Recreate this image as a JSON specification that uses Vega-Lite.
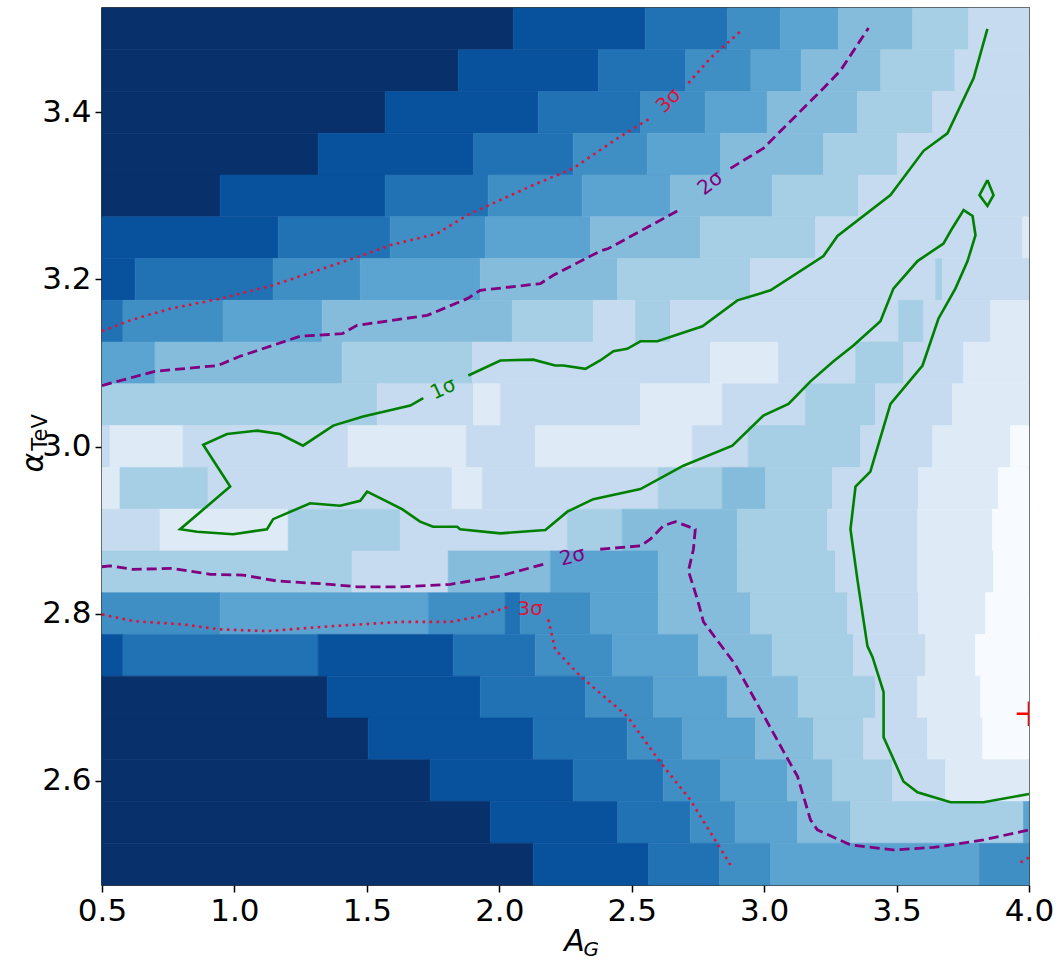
{
  "$schema": "https://vega.github.io/schema/vega-lite/v6.json",
  "autosize": {"type": "none"},
  "padding": {"left": 102, "top": 8, "right": 29, "bottom": 79},
  "width": 927,
  "height": 877,
  "background": "white",
  "config": {
    "view": {"stroke": "black", "strokeWidth": 1.5},
    "font": "DejaVu Sans",
    "axis": {"grid": false, "domain": false, "tickColor": "black", "tickWidth": 1.5, "tickSize": 7,
             "labelFont": "DejaVu Sans", "labelFontSize": 31, "labelColor": "black", "labelPadding": 4, "labelFlush": false, "labelOverlap": false,
             "titleFont": "DejaVu Sans", "titleFontSize": 30, "titleColor": "black", "titleFontWeight": "normal", "titleFontStyle": "italic"}
  },
  "datasets": {
    "heat": [
      {"y0":3.475,"y1":3.525,"x0":0.5,"x1":2.053,"v":9},{"y0":3.475,"y1":3.525,"x0":2.053,"x1":2.551,"v":8},{"y0":3.475,"y1":3.525,"x0":2.551,"x1":2.861,"v":7},{"y0":3.475,"y1":3.525,"x0":2.861,"x1":3.061,"v":6},{"y0":3.475,"y1":3.525,"x0":3.061,"x1":3.28,"v":5},{"y0":3.475,"y1":3.525,"x0":3.28,"x1":3.56,"v":4},{"y0":3.475,"y1":3.525,"x0":3.56,"x1":3.772,"v":3},{"y0":3.475,"y1":3.525,"x0":3.772,"x1":4.0,"v":2},
      {"y0":3.425,"y1":3.475,"x0":0.5,"x1":1.845,"v":9},{"y0":3.425,"y1":3.475,"x0":1.845,"x1":2.374,"v":8},{"y0":3.425,"y1":3.475,"x0":2.374,"x1":2.703,"v":7},{"y0":3.425,"y1":3.475,"x0":2.703,"x1":2.95,"v":6},{"y0":3.425,"y1":3.475,"x0":2.95,"x1":3.14,"v":5},{"y0":3.425,"y1":3.475,"x0":3.14,"x1":3.44,"v":4},{"y0":3.425,"y1":3.475,"x0":3.44,"x1":3.72,"v":3},{"y0":3.425,"y1":3.475,"x0":3.72,"x1":4.0,"v":2},
      {"y0":3.375,"y1":3.425,"x0":0.5,"x1":1.569,"v":9},{"y0":3.375,"y1":3.425,"x0":1.569,"x1":2.147,"v":8},{"y0":3.375,"y1":3.425,"x0":2.147,"x1":2.533,"v":7},{"y0":3.375,"y1":3.425,"x0":2.533,"x1":2.778,"v":6},{"y0":3.375,"y1":3.425,"x0":2.778,"x1":3.012,"v":5},{"y0":3.375,"y1":3.425,"x0":3.012,"x1":3.352,"v":4},{"y0":3.375,"y1":3.425,"x0":3.352,"x1":3.636,"v":3},{"y0":3.375,"y1":3.425,"x0":3.636,"x1":4.0,"v":2},
      {"y0":3.325,"y1":3.375,"x0":0.5,"x1":1.316,"v":9},{"y0":3.325,"y1":3.375,"x0":1.316,"x1":1.902,"v":8},{"y0":3.325,"y1":3.375,"x0":1.902,"x1":2.279,"v":7},{"y0":3.325,"y1":3.375,"x0":2.279,"x1":2.559,"v":6},{"y0":3.325,"y1":3.375,"x0":2.559,"x1":2.835,"v":5},{"y0":3.325,"y1":3.375,"x0":2.835,"x1":3.224,"v":4},{"y0":3.325,"y1":3.375,"x0":3.224,"x1":3.503,"v":3},{"y0":3.325,"y1":3.375,"x0":3.503,"x1":4.0,"v":2},
      {"y0":3.275,"y1":3.325,"x0":0.5,"x1":0.946,"v":9},{"y0":3.275,"y1":3.325,"x0":0.946,"x1":1.569,"v":8},{"y0":3.275,"y1":3.325,"x0":1.569,"x1":1.958,"v":7},{"y0":3.275,"y1":3.325,"x0":1.958,"x1":2.313,"v":6},{"y0":3.275,"y1":3.325,"x0":2.313,"x1":2.646,"v":5},{"y0":3.275,"y1":3.325,"x0":2.646,"x1":3.031,"v":4},{"y0":3.275,"y1":3.325,"x0":3.031,"x1":3.356,"v":3},{"y0":3.275,"y1":3.325,"x0":3.356,"x1":4.0,"v":2},
      {"y0":3.225,"y1":3.275,"x0":0.5,"x1":1.165,"v":8},{"y0":3.225,"y1":3.275,"x0":1.165,"x1":1.588,"v":7},{"y0":3.225,"y1":3.275,"x0":1.588,"x1":1.947,"v":6},{"y0":3.225,"y1":3.275,"x0":1.947,"x1":2.344,"v":5},{"y0":3.225,"y1":3.275,"x0":2.344,"x1":2.759,"v":4},{"y0":3.225,"y1":3.275,"x0":2.759,"x1":3.194,"v":3},{"y0":3.225,"y1":3.275,"x0":3.194,"x1":3.976,"v":2},{"y0":3.225,"y1":3.275,"x0":3.976,"x1":4.0,"v":1},
      {"y0":3.175,"y1":3.225,"x0":0.5,"x1":0.625,"v":8},{"y0":3.175,"y1":3.225,"x0":0.625,"x1":1.146,"v":7},{"y0":3.175,"y1":3.225,"x0":1.146,"x1":1.475,"v":6},{"y0":3.175,"y1":3.225,"x0":1.475,"x1":1.928,"v":5},{"y0":3.175,"y1":3.225,"x0":1.928,"x1":2.446,"v":4},{"y0":3.175,"y1":3.225,"x0":2.446,"x1":2.948,"v":3},{"y0":3.175,"y1":3.225,"x0":2.948,"x1":3.647,"v":2},{"y0":3.175,"y1":3.225,"x0":3.647,"x1":3.673,"v":3},{"y0":3.175,"y1":3.225,"x0":3.673,"x1":4.0,"v":2},
      {"y0":3.125,"y1":3.175,"x0":0.5,"x1":0.579,"v":7},{"y0":3.125,"y1":3.175,"x0":0.579,"x1":0.957,"v":6},{"y0":3.125,"y1":3.175,"x0":0.957,"x1":1.331,"v":5},{"y0":3.125,"y1":3.175,"x0":1.331,"x1":2.049,"v":4},{"y0":3.125,"y1":3.175,"x0":2.049,"x1":2.355,"v":3},{"y0":3.125,"y1":3.175,"x0":2.355,"x1":2.514,"v":2},{"y0":3.125,"y1":3.175,"x0":2.514,"x1":2.646,"v":3},{"y0":3.125,"y1":3.175,"x0":2.646,"x1":3.507,"v":2},{"y0":3.125,"y1":3.175,"x0":3.507,"x1":3.602,"v":3},{"y0":3.125,"y1":3.175,"x0":3.602,"x1":3.855,"v":2},{"y0":3.125,"y1":3.175,"x0":3.855,"x1":4.0,"v":1},
      {"y0":3.075,"y1":3.125,"x0":0.5,"x1":0.7,"v":5},{"y0":3.075,"y1":3.125,"x0":0.7,"x1":1.407,"v":4},{"y0":3.075,"y1":3.125,"x0":1.407,"x1":1.898,"v":3},{"y0":3.075,"y1":3.125,"x0":1.898,"x1":2.797,"v":2},{"y0":3.075,"y1":3.125,"x0":2.797,"x1":3.054,"v":1},{"y0":3.075,"y1":3.125,"x0":3.054,"x1":3.345,"v":2},{"y0":3.075,"y1":3.125,"x0":3.345,"x1":3.526,"v":3},{"y0":3.075,"y1":3.125,"x0":3.526,"x1":3.753,"v":2},{"y0":3.075,"y1":3.125,"x0":3.753,"x1":4.0,"v":1},
      {"y0":3.025,"y1":3.075,"x0":0.5,"x1":1.539,"v":3},{"y0":3.025,"y1":3.075,"x0":1.539,"x1":1.902,"v":2},{"y0":3.025,"y1":3.075,"x0":1.902,"x1":2.004,"v":1},{"y0":3.025,"y1":3.075,"x0":2.004,"x1":2.533,"v":2},{"y0":3.025,"y1":3.075,"x0":2.533,"x1":2.842,"v":1},{"y0":3.025,"y1":3.075,"x0":2.842,"x1":3.156,"v":2},{"y0":3.025,"y1":3.075,"x0":3.156,"x1":3.42,"v":3},{"y0":3.025,"y1":3.075,"x0":3.42,"x1":3.711,"v":2},{"y0":3.025,"y1":3.075,"x0":3.711,"x1":4.0,"v":1},
      {"y0":2.975,"y1":3.025,"x0":0.5,"x1":0.53,"v":2},{"y0":2.975,"y1":3.025,"x0":0.53,"x1":0.806,"v":1},{"y0":2.975,"y1":3.025,"x0":0.806,"x1":1.429,"v":2},{"y0":2.975,"y1":3.025,"x0":1.429,"x1":1.875,"v":1},{"y0":2.975,"y1":3.025,"x0":1.875,"x1":2.136,"v":2},{"y0":2.975,"y1":3.025,"x0":2.136,"x1":2.729,"v":1},{"y0":2.975,"y1":3.025,"x0":2.729,"x1":2.94,"v":2},{"y0":2.975,"y1":3.025,"x0":2.94,"x1":3.364,"v":3},{"y0":2.975,"y1":3.025,"x0":3.364,"x1":3.636,"v":2},{"y0":2.975,"y1":3.025,"x0":3.636,"x1":3.93,"v":1},{"y0":2.975,"y1":3.025,"x0":3.93,"x1":4.0,"v":0},
      {"y0":2.925,"y1":2.975,"x0":0.5,"x1":0.568,"v":1},{"y0":2.925,"y1":2.975,"x0":0.568,"x1":0.9,"v":3},{"y0":2.925,"y1":2.975,"x0":0.9,"x1":1.822,"v":2},{"y0":2.925,"y1":2.975,"x0":1.822,"x1":1.936,"v":1},{"y0":2.925,"y1":2.975,"x0":1.936,"x1":2.6,"v":2},{"y0":2.925,"y1":2.975,"x0":2.6,"x1":2.842,"v":3},{"y0":2.925,"y1":2.975,"x0":2.842,"x1":3.005,"v":4},{"y0":2.925,"y1":2.975,"x0":3.005,"x1":3.258,"v":3},{"y0":2.925,"y1":2.975,"x0":3.258,"x1":3.583,"v":2},{"y0":2.925,"y1":2.975,"x0":3.583,"x1":3.885,"v":1},{"y0":2.925,"y1":2.975,"x0":3.885,"x1":4.0,"v":0},
      {"y0":2.875,"y1":2.925,"x0":0.5,"x1":0.719,"v":2},{"y0":2.875,"y1":2.925,"x0":0.719,"x1":1.203,"v":1},{"y0":2.875,"y1":2.925,"x0":1.203,"x1":1.626,"v":3},{"y0":2.875,"y1":2.925,"x0":1.626,"x1":2.257,"v":2},{"y0":2.875,"y1":2.925,"x0":2.257,"x1":2.464,"v":3},{"y0":2.875,"y1":2.925,"x0":2.464,"x1":2.899,"v":4},{"y0":2.875,"y1":2.925,"x0":2.899,"x1":3.239,"v":3},{"y0":2.875,"y1":2.925,"x0":3.239,"x1":3.579,"v":2},{"y0":2.875,"y1":2.925,"x0":3.579,"x1":3.862,"v":1},{"y0":2.875,"y1":2.925,"x0":3.862,"x1":4.0,"v":0},
      {"y0":2.825,"y1":2.875,"x0":0.5,"x1":1.444,"v":3},{"y0":2.825,"y1":2.875,"x0":1.444,"x1":1.807,"v":2},{"y0":2.825,"y1":2.875,"x0":1.807,"x1":2.193,"v":4},{"y0":2.825,"y1":2.875,"x0":2.193,"x1":2.6,"v":5},{"y0":2.825,"y1":2.875,"x0":2.6,"x1":2.899,"v":4},{"y0":2.825,"y1":2.875,"x0":2.899,"x1":3.269,"v":3},{"y0":2.825,"y1":2.875,"x0":3.269,"x1":3.579,"v":2},{"y0":2.825,"y1":2.875,"x0":3.579,"x1":3.866,"v":1},{"y0":2.825,"y1":2.875,"x0":3.866,"x1":4.0,"v":0},
      {"y0":2.775,"y1":2.825,"x0":0.5,"x1":0.946,"v":6},{"y0":2.775,"y1":2.825,"x0":0.946,"x1":1.732,"v":5},{"y0":2.775,"y1":2.825,"x0":1.732,"x1":2.022,"v":6},{"y0":2.775,"y1":2.825,"x0":2.022,"x1":2.079,"v":7},{"y0":2.775,"y1":2.825,"x0":2.079,"x1":2.344,"v":6},{"y0":2.775,"y1":2.825,"x0":2.344,"x1":2.6,"v":5},{"y0":2.775,"y1":2.825,"x0":2.6,"x1":2.948,"v":4},{"y0":2.775,"y1":2.825,"x0":2.948,"x1":3.315,"v":3},{"y0":2.775,"y1":2.825,"x0":3.315,"x1":3.583,"v":2},{"y0":2.775,"y1":2.825,"x0":3.583,"x1":3.836,"v":1},{"y0":2.775,"y1":2.825,"x0":3.836,"x1":4.0,"v":0},
      {"y0":2.725,"y1":2.775,"x0":0.5,"x1":0.579,"v":8},{"y0":2.725,"y1":2.775,"x0":0.579,"x1":1.316,"v":7},{"y0":2.725,"y1":2.775,"x0":1.316,"x1":1.826,"v":8},{"y0":2.725,"y1":2.775,"x0":1.826,"x1":2.136,"v":7},{"y0":2.725,"y1":2.775,"x0":2.136,"x1":2.427,"v":6},{"y0":2.725,"y1":2.775,"x0":2.427,"x1":2.752,"v":5},{"y0":2.725,"y1":2.775,"x0":2.752,"x1":3.031,"v":4},{"y0":2.725,"y1":2.775,"x0":3.031,"x1":3.337,"v":3},{"y0":2.725,"y1":2.775,"x0":3.337,"x1":3.609,"v":2},{"y0":2.725,"y1":2.775,"x0":3.609,"x1":3.798,"v":1},{"y0":2.725,"y1":2.775,"x0":3.798,"x1":4.0,"v":0},
      {"y0":2.675,"y1":2.725,"x0":0.5,"x1":1.35,"v":9},{"y0":2.675,"y1":2.725,"x0":1.35,"x1":1.928,"v":8},{"y0":2.675,"y1":2.725,"x0":1.928,"x1":2.325,"v":7},{"y0":2.675,"y1":2.725,"x0":2.325,"x1":2.582,"v":6},{"y0":2.675,"y1":2.725,"x0":2.582,"x1":2.861,"v":5},{"y0":2.675,"y1":2.725,"x0":2.861,"x1":3.129,"v":4},{"y0":2.675,"y1":2.725,"x0":3.129,"x1":3.42,"v":3},{"y0":2.675,"y1":2.725,"x0":3.42,"x1":3.579,"v":2},{"y0":2.675,"y1":2.725,"x0":3.579,"x1":3.817,"v":1},{"y0":2.675,"y1":2.725,"x0":3.817,"x1":4.0,"v":0},
      {"y0":2.625,"y1":2.675,"x0":0.5,"x1":1.505,"v":9},{"y0":2.625,"y1":2.675,"x0":1.505,"x1":2.128,"v":8},{"y0":2.625,"y1":2.675,"x0":2.128,"x1":2.483,"v":7},{"y0":2.625,"y1":2.675,"x0":2.483,"x1":2.691,"v":6},{"y0":2.625,"y1":2.675,"x0":2.691,"x1":2.967,"v":5},{"y0":2.625,"y1":2.675,"x0":2.967,"x1":3.186,"v":4},{"y0":2.625,"y1":2.675,"x0":3.186,"x1":3.375,"v":3},{"y0":2.625,"y1":2.675,"x0":3.375,"x1":3.617,"v":2},{"y0":2.625,"y1":2.675,"x0":3.617,"x1":3.825,"v":1},{"y0":2.625,"y1":2.675,"x0":3.825,"x1":4.0,"v":0},
      {"y0":2.575,"y1":2.625,"x0":0.5,"x1":1.739,"v":9},{"y0":2.575,"y1":2.625,"x0":1.739,"x1":2.279,"v":8},{"y0":2.575,"y1":2.625,"x0":2.279,"x1":2.619,"v":7},{"y0":2.575,"y1":2.625,"x0":2.619,"x1":2.835,"v":6},{"y0":2.575,"y1":2.625,"x0":2.835,"x1":3.088,"v":5},{"y0":2.575,"y1":2.625,"x0":3.088,"x1":3.258,"v":4},{"y0":2.575,"y1":2.625,"x0":3.258,"x1":3.485,"v":3},{"y0":2.575,"y1":2.625,"x0":3.485,"x1":3.685,"v":2},{"y0":2.575,"y1":2.625,"x0":3.685,"x1":4.0,"v":1},
      {"y0":2.525,"y1":2.575,"x0":0.5,"x1":1.966,"v":9},{"y0":2.525,"y1":2.575,"x0":1.966,"x1":2.446,"v":8},{"y0":2.525,"y1":2.575,"x0":2.446,"x1":2.721,"v":7},{"y0":2.525,"y1":2.575,"x0":2.721,"x1":2.891,"v":6},{"y0":2.525,"y1":2.575,"x0":2.891,"x1":3.126,"v":5},{"y0":2.525,"y1":2.575,"x0":3.126,"x1":3.326,"v":4},{"y0":2.525,"y1":2.575,"x0":3.326,"x1":3.979,"v":3},{"y0":2.525,"y1":2.575,"x0":3.979,"x1":4.0,"v":5},
      {"y0":2.475,"y1":2.525,"x0":0.5,"x1":2.128,"v":9},{"y0":2.475,"y1":2.525,"x0":2.128,"x1":2.563,"v":8},{"y0":2.475,"y1":2.525,"x0":2.563,"x1":2.831,"v":7},{"y0":2.475,"y1":2.525,"x0":2.831,"x1":3.024,"v":6},{"y0":2.475,"y1":2.525,"x0":3.024,"x1":3.813,"v":5},{"y0":2.475,"y1":2.525,"x0":3.813,"x1":4.0,"v":6}
    ],
    "lines": [
      {"c":"s3","seg":"a1","i":1,"x":0.5,"y":3.138},{"c":"s3","seg":"a1","i":2,"x":0.606,"y":3.151},{"c":"s3","seg":"a1","i":3,"x":0.757,"y":3.165},{"c":"s3","seg":"a1","i":4,"x":0.946,"y":3.177},{"c":"s3","seg":"a1","i":5,"x":1.146,"y":3.193},{"c":"s3","seg":"a1","i":6,"x":1.475,"y":3.228},{"c":"s3","seg":"a1","i":7,"x":1.588,"y":3.241},{"c":"s3","seg":"a1","i":8,"x":1.766,"y":3.255},{"c":"s3","seg":"a1","i":9,"x":1.879,"y":3.277},{"c":"s3","seg":"a1","i":10,"x":1.954,"y":3.288},{"c":"s3","seg":"a1","i":11,"x":2.128,"y":3.313},{"c":"s3","seg":"a1","i":12,"x":2.279,"y":3.333},{"c":"s3","seg":"a1","i":13,"x":2.381,"y":3.355},{"c":"s3","seg":"a1","i":14,"x":2.446,"y":3.369},{"c":"s3","seg":"a1","i":15,"x":2.57,"y":3.393},
      {"c":"s3","seg":"a2","i":1,"x":2.714,"y":3.435},{"c":"s3","seg":"a2","i":2,"x":2.797,"y":3.465},{"c":"s3","seg":"a2","i":3,"x":2.918,"y":3.499},
      {"c":"s3","seg":"b1","i":1,"x":0.5,"y":2.799},{"c":"s3","seg":"b1","i":2,"x":0.617,"y":2.791},{"c":"s3","seg":"b1","i":3,"x":0.806,"y":2.787},{"c":"s3","seg":"b1","i":4,"x":0.946,"y":2.781},{"c":"s3","seg":"b1","i":5,"x":1.123,"y":2.779},{"c":"s3","seg":"b1","i":6,"x":1.373,"y":2.785},{"c":"s3","seg":"b1","i":7,"x":1.626,"y":2.79},{"c":"s3","seg":"b1","i":8,"x":1.815,"y":2.79},{"c":"s3","seg":"b1","i":9,"x":1.917,"y":2.796},{"c":"s3","seg":"b1","i":10,"x":2.004,"y":2.805},{"c":"s3","seg":"b1","i":11,"x":2.034,"y":2.808},
      {"c":"s3","seg":"b2","i":1,"x":2.185,"y":2.793},{"c":"s3","seg":"b2","i":2,"x":2.211,"y":2.757},{"c":"s3","seg":"b2","i":3,"x":2.306,"y":2.725},{"c":"s3","seg":"b2","i":4,"x":2.483,"y":2.677},{"c":"s3","seg":"b2","i":5,"x":2.608,"y":2.622},{"c":"s3","seg":"b2","i":6,"x":2.721,"y":2.577},{"c":"s3","seg":"b2","i":7,"x":2.797,"y":2.538},{"c":"s3","seg":"b2","i":8,"x":2.873,"y":2.499},
      {"c":"s3","seg":"c","i":1,"x":3.968,"y":2.502},{"c":"s3","seg":"c","i":2,"x":4.0,"y":2.508},
      {"c":"s2","seg":"a1","i":1,"x":0.5,"y":3.073},{"c":"s2","seg":"a1","i":2,"x":0.7,"y":3.09},{"c":"s2","seg":"a1","i":3,"x":0.938,"y":3.097},{"c":"s2","seg":"a1","i":4,"x":1.021,"y":3.108},{"c":"s2","seg":"a1","i":5,"x":1.248,"y":3.132},{"c":"s2","seg":"a1","i":6,"x":1.407,"y":3.135},{"c":"s2","seg":"a1","i":7,"x":1.463,"y":3.145},{"c":"s2","seg":"a1","i":8,"x":1.728,"y":3.157},{"c":"s2","seg":"a1","i":9,"x":1.879,"y":3.177},{"c":"s2","seg":"a1","i":10,"x":1.928,"y":3.187},{"c":"s2","seg":"a1","i":11,"x":2.155,"y":3.195},{"c":"s2","seg":"a1","i":12,"x":2.204,"y":3.205},{"c":"s2","seg":"a1","i":13,"x":2.381,"y":3.234},{"c":"s2","seg":"a1","i":14,"x":2.412,"y":3.237},{"c":"s2","seg":"a1","i":15,"x":2.672,"y":3.282},
      {"c":"s2","seg":"a2","i":1,"x":2.873,"y":3.333},{"c":"s2","seg":"a2","i":2,"x":2.997,"y":3.357},{"c":"s2","seg":"a2","i":3,"x":3.224,"y":3.429},{"c":"s2","seg":"a2","i":4,"x":3.288,"y":3.45},{"c":"s2","seg":"a2","i":5,"x":3.394,"y":3.501},
      {"c":"s2","seg":"b1","i":1,"x":0.5,"y":2.856},{"c":"s2","seg":"b1","i":2,"x":0.53,"y":2.857},{"c":"s2","seg":"b1","i":3,"x":0.617,"y":2.853},{"c":"s2","seg":"b1","i":4,"x":0.768,"y":2.854},{"c":"s2","seg":"b1","i":5,"x":0.908,"y":2.847},{"c":"s2","seg":"b1","i":6,"x":1.033,"y":2.846},{"c":"s2","seg":"b1","i":7,"x":1.161,"y":2.839},{"c":"s2","seg":"b1","i":8,"x":1.361,"y":2.835},{"c":"s2","seg":"b1","i":9,"x":1.463,"y":2.832},{"c":"s2","seg":"b1","i":10,"x":1.626,"y":2.832},{"c":"s2","seg":"b1","i":11,"x":1.815,"y":2.835},{"c":"s2","seg":"b1","i":12,"x":2.004,"y":2.845},{"c":"s2","seg":"b1","i":13,"x":2.166,"y":2.859},
      {"c":"s2","seg":"b2","i":1,"x":2.381,"y":2.877},{"c":"s2","seg":"b2","i":2,"x":2.533,"y":2.881},{"c":"s2","seg":"b2","i":3,"x":2.57,"y":2.889},{"c":"s2","seg":"b2","i":4,"x":2.619,"y":2.905},{"c":"s2","seg":"b2","i":5,"x":2.665,"y":2.91},{"c":"s2","seg":"b2","i":6,"x":2.74,"y":2.901},{"c":"s2","seg":"b2","i":7,"x":2.733,"y":2.877},{"c":"s2","seg":"b2","i":8,"x":2.714,"y":2.851},{"c":"s2","seg":"b2","i":9,"x":2.748,"y":2.817},{"c":"s2","seg":"b2","i":10,"x":2.771,"y":2.79},{"c":"s2","seg":"b2","i":11,"x":2.891,"y":2.739},{"c":"s2","seg":"b2","i":12,"x":2.937,"y":2.713},{"c":"s2","seg":"b2","i":13,"x":3.073,"y":2.635},{"c":"s2","seg":"b2","i":14,"x":3.126,"y":2.605},{"c":"s2","seg":"b2","i":15,"x":3.175,"y":2.553},{"c":"s2","seg":"b2","i":16,"x":3.201,"y":2.541},{"c":"s2","seg":"b2","i":17,"x":3.326,"y":2.523},{"c":"s2","seg":"b2","i":18,"x":3.488,"y":2.517},{"c":"s2","seg":"b2","i":19,"x":3.639,"y":2.52},{"c":"s2","seg":"b2","i":20,"x":3.828,"y":2.529},{"c":"s2","seg":"b2","i":21,"x":4.0,"y":2.541},
      {"c":"s1","seg":"a1","i":1,"x":3.843,"y":3.5},{"c":"s1","seg":"a1","i":2,"x":3.791,"y":3.441},{"c":"s1","seg":"a1","i":3,"x":3.692,"y":3.375},{"c":"s1","seg":"a1","i":4,"x":3.602,"y":3.354},{"c":"s1","seg":"a1","i":5,"x":3.477,"y":3.301},{"c":"s1","seg":"a1","i":6,"x":3.277,"y":3.252},{"c":"s1","seg":"a1","i":7,"x":3.224,"y":3.228},{"c":"s1","seg":"a1","i":8,"x":3.024,"y":3.187},{"c":"s1","seg":"a1","i":9,"x":2.899,"y":3.175},{"c":"s1","seg":"a1","i":10,"x":2.767,"y":3.144},{"c":"s1","seg":"a1","i":11,"x":2.597,"y":3.126},{"c":"s1","seg":"a1","i":12,"x":2.533,"y":3.126},{"c":"s1","seg":"a1","i":13,"x":2.483,"y":3.117},{"c":"s1","seg":"a1","i":14,"x":2.431,"y":3.114},{"c":"s1","seg":"a1","i":15,"x":2.381,"y":3.103},{"c":"s1","seg":"a1","i":16,"x":2.325,"y":3.093},{"c":"s1","seg":"a1","i":17,"x":2.242,"y":3.097},{"c":"s1","seg":"a1","i":18,"x":2.211,"y":3.097},{"c":"s1","seg":"a1","i":19,"x":2.128,"y":3.104},{"c":"s1","seg":"a1","i":20,"x":2.004,"y":3.103},{"c":"s1","seg":"a1","i":21,"x":1.883,"y":3.085},
      {"c":"s1","seg":"a2","i":1,"x":1.713,"y":3.058},{"c":"s1","seg":"a2","i":2,"x":1.664,"y":3.049},{"c":"s1","seg":"a2","i":3,"x":1.486,"y":3.036},{"c":"s1","seg":"a2","i":4,"x":1.373,"y":3.025},{"c":"s1","seg":"a2","i":5,"x":1.259,"y":3.001},{"c":"s1","seg":"a2","i":6,"x":1.172,"y":3.015},{"c":"s1","seg":"a2","i":7,"x":1.086,"y":3.019},{"c":"s1","seg":"a2","i":8,"x":0.972,"y":3.015},{"c":"s1","seg":"a2","i":9,"x":0.882,"y":3.002},{"c":"s1","seg":"a2","i":10,"x":0.984,"y":2.952},{"c":"s1","seg":"a2","i":11,"x":0.795,"y":2.901},{"c":"s1","seg":"a2","i":12,"x":0.859,"y":2.898},{"c":"s1","seg":"a2","i":13,"x":0.995,"y":2.895},{"c":"s1","seg":"a2","i":14,"x":1.123,"y":2.901},{"c":"s1","seg":"a2","i":15,"x":1.146,"y":2.913},{"c":"s1","seg":"a2","i":16,"x":1.286,"y":2.932},{"c":"s1","seg":"a2","i":17,"x":1.399,"y":2.929},{"c":"s1","seg":"a2","i":18,"x":1.475,"y":2.935},{"c":"s1","seg":"a2","i":19,"x":1.501,"y":2.946},{"c":"s1","seg":"a2","i":20,"x":1.539,"y":2.94},{"c":"s1","seg":"a2","i":21,"x":1.633,"y":2.925},{"c":"s1","seg":"a2","i":22,"x":1.701,"y":2.91},{"c":"s1","seg":"a2","i":23,"x":1.75,"y":2.904},{"c":"s1","seg":"a2","i":24,"x":1.841,"y":2.904},{"c":"s1","seg":"a2","i":25,"x":1.852,"y":2.901},{"c":"s1","seg":"a2","i":26,"x":2.004,"y":2.896},{"c":"s1","seg":"a2","i":27,"x":2.174,"y":2.9},{"c":"s1","seg":"a2","i":28,"x":2.257,"y":2.922},{"c":"s1","seg":"a2","i":29,"x":2.355,"y":2.937},{"c":"s1","seg":"a2","i":30,"x":2.533,"y":2.949},{"c":"s1","seg":"a2","i":31,"x":2.695,"y":2.977},{"c":"s1","seg":"a2","i":32,"x":2.88,"y":3.001},{"c":"s1","seg":"a2","i":33,"x":2.997,"y":3.037},{"c":"s1","seg":"a2","i":34,"x":3.092,"y":3.051},{"c":"s1","seg":"a2","i":35,"x":3.175,"y":3.078},{"c":"s1","seg":"a2","i":36,"x":3.262,"y":3.102},{"c":"s1","seg":"a2","i":37,"x":3.337,"y":3.121},{"c":"s1","seg":"a2","i":38,"x":3.439,"y":3.15},{"c":"s1","seg":"a2","i":39,"x":3.488,"y":3.189},{"c":"s1","seg":"a2","i":40,"x":3.579,"y":3.222},{"c":"s1","seg":"a2","i":41,"x":3.677,"y":3.243},{"c":"s1","seg":"a2","i":42,"x":3.704,"y":3.258},{"c":"s1","seg":"a2","i":43,"x":3.753,"y":3.283},{"c":"s1","seg":"a2","i":44,"x":3.787,"y":3.276},{"c":"s1","seg":"a2","i":45,"x":3.798,"y":3.253},{"c":"s1","seg":"a2","i":46,"x":3.768,"y":3.222},{"c":"s1","seg":"a2","i":47,"x":3.722,"y":3.189},{"c":"s1","seg":"a2","i":48,"x":3.658,"y":3.153},{"c":"s1","seg":"a2","i":49,"x":3.598,"y":3.097},{"c":"s1","seg":"a2","i":50,"x":3.477,"y":3.051},{"c":"s1","seg":"a2","i":51,"x":3.401,"y":2.97},{"c":"s1","seg":"a2","i":52,"x":3.345,"y":2.952},{"c":"s1","seg":"a2","i":53,"x":3.326,"y":2.901},{"c":"s1","seg":"a2","i":54,"x":3.352,"y":2.841},{"c":"s1","seg":"a2","i":55,"x":3.39,"y":2.761},{"c":"s1","seg":"a2","i":56,"x":3.409,"y":2.748},{"c":"s1","seg":"a2","i":57,"x":3.451,"y":2.706},{"c":"s1","seg":"a2","i":58,"x":3.451,"y":2.652},{"c":"s1","seg":"a2","i":59,"x":3.526,"y":2.599},{"c":"s1","seg":"a2","i":60,"x":3.579,"y":2.586},{"c":"s1","seg":"a2","i":61,"x":3.704,"y":2.574},{"c":"s1","seg":"a2","i":62,"x":3.828,"y":2.574},{"c":"s1","seg":"a2","i":63,"x":4.0,"y":2.584},
      {"c":"s1","seg":"d","i":1,"x":3.843,"y":3.319},{"c":"s1","seg":"d","i":2,"x":3.866,"y":3.301},{"c":"s1","seg":"d","i":3,"x":3.843,"y":3.288},{"c":"s1","seg":"d","i":4,"x":3.813,"y":3.301},{"c":"s1","seg":"d","i":5,"x":3.843,"y":3.319}
    ]
  },
  "layer": [
    {
      "data": {"name": "heat"},
      "mark": {"type": "rect", "strokeWidth": 0.6},
      "encoding": {
        "x": {"field": "x0", "type": "quantitative", "scale": {"domain": [0.5, 4.0], "nice": false, "zero": false},
              "axis": {"values": [0.5, 1.0, 1.5, 2.0, 2.5, 3.0, 3.5, 4.0], "format": ".1f", "title": "A", "titleX": 472, "titleY": 65, "titleBaseline": "alphabetic", "titleAlign": "center"}},
        "x2": {"field": "x1"},
        "y": {"field": "y0", "type": "quantitative", "scale": {"domain": [2.475, 3.525], "nice": false, "zero": false},
              "axis": {"values": [2.6, 2.8, 3.0, 3.2, 3.4], "format": ".1f", "title": "α", "titleAngle": 270, "titleX": -69, "titleY": 454, "titleAlign": "center", "titleBaseline": "middle"}},
        "y2": {"field": "y1"},
        "fill": {"field": "v", "type": "ordinal", "legend": null,
                 "scale": {"domain": [0,1,2,3,4,5,6,7,8,9], "range": ["#f7fbff","#deebf7","#c6dbef","#a6cee4","#85bcdc","#5ba3d0","#3f8fc5","#2171b5","#08519c","#08306b"]}},
        "stroke": {"field": "v", "type": "ordinal", "legend": null,
                 "scale": {"domain": [0,1,2,3,4,5,6,7,8,9], "range": ["#f7fbff","#deebf7","#c6dbef","#a6cee4","#85bcdc","#5ba3d0","#3f8fc5","#2171b5","#08519c","#08306b"]}}
      }
    },
    {
      "data": {"name": "lines"},
      "transform": [{"filter": "datum.c === 's3'"}],
      "mark": {"type": "line", "color": "#dc143c", "strokeWidth": 2.6, "strokeDash": [2.6, 4.4], "clip": true},
      "encoding": {"x": {"field": "x", "type": "quantitative"}, "y": {"field": "y", "type": "quantitative"}, "detail": {"field": "seg"}, "order": {"field": "i", "type": "quantitative"}}
    },
    {
      "data": {"name": "lines"},
      "transform": [{"filter": "datum.c === 's2'"}],
      "mark": {"type": "line", "color": "#800080", "strokeWidth": 2.8, "strokeDash": [10, 5], "clip": true},
      "encoding": {"x": {"field": "x", "type": "quantitative"}, "y": {"field": "y", "type": "quantitative"}, "detail": {"field": "seg"}, "order": {"field": "i", "type": "quantitative"}}
    },
    {
      "data": {"name": "lines"},
      "transform": [{"filter": "datum.c === 's1'"}],
      "mark": {"type": "line", "color": "#008000", "strokeWidth": 2.6, "clip": true},
      "encoding": {"x": {"field": "x", "type": "quantitative"}, "y": {"field": "y", "type": "quantitative"}, "detail": {"field": "seg"}, "order": {"field": "i", "type": "quantitative"}}
    },
    {
      "data": {"values": [{"x": 2.64, "y": 3.414, "t": "3σ"}]},
      "mark": {"type": "text", "color": "#dc143c", "fontSize": 20, "angle": -45, "align": "center", "baseline": "middle"},
      "encoding": {"x": {"field": "x", "type": "quantitative"}, "y": {"field": "y", "type": "quantitative"}, "text": {"field": "t"}}
    },
    {
      "data": {"values": [{"x": 2.117, "y": 2.805, "t": "3σ"}]},
      "mark": {"type": "text", "color": "#dc143c", "fontSize": 20, "angle": 0, "align": "center", "baseline": "middle"},
      "encoding": {"x": {"field": "x", "type": "quantitative"}, "y": {"field": "y", "type": "quantitative"}, "text": {"field": "t"}}
    },
    {
      "data": {"values": [{"x": 2.797, "y": 3.315, "t": "2σ"}]},
      "mark": {"type": "text", "color": "#800080", "fontSize": 20, "angle": -38, "align": "center", "baseline": "middle"},
      "encoding": {"x": {"field": "x", "type": "quantitative"}, "y": {"field": "y", "type": "quantitative"}, "text": {"field": "t"}}
    },
    {
      "data": {"values": [{"x": 2.276, "y": 2.868, "t": "2σ"}]},
      "mark": {"type": "text", "color": "#800080", "fontSize": 20, "angle": -15, "align": "center", "baseline": "middle"},
      "encoding": {"x": {"field": "x", "type": "quantitative"}, "y": {"field": "y", "type": "quantitative"}, "text": {"field": "t"}}
    },
    {
      "data": {"values": [{"x": 1.788, "y": 3.069, "t": "1σ"}]},
      "mark": {"type": "text", "color": "#008000", "fontSize": 20, "angle": -25, "align": "center", "baseline": "middle"},
      "encoding": {"x": {"field": "x", "type": "quantitative"}, "y": {"field": "y", "type": "quantitative"}, "text": {"field": "t"}}
    },
    {
      "data": {"values": [{"x": 4.0, "y": 2.68}]},
      "mark": {"type": "point", "shape": "M-1,0L1,0M0,-1L0,1", "stroke": "#ff0000", "strokeWidth": 2.6, "size": 600, "filled": false, "opacity": 1, "clip": true},
      "encoding": {"x": {"field": "x", "type": "quantitative"}, "y": {"field": "y", "type": "quantitative"}}
    },
    {
      "data": {"values": [{"s": "G"}]},
      "mark": {"type": "text", "fontSize": 20, "fontStyle": "italic", "color": "black", "align": "left", "baseline": "alphabetic", "dx": 18, "dy": 71, "clip": false},
      "encoding": {"x": {"datum": 2.25}, "y": {"datum": 2.475}, "text": {"field": "s"}}
    },
    {
      "data": {"values": [{"s": "TeV"}]},
      "mark": {"type": "text", "fontSize": 21, "color": "black", "angle": 270, "align": "center", "baseline": "middle", "dx": 14, "dy": -61, "clip": false},
      "encoding": {"x": {"datum": 0.5}, "y": {"datum": 3.0}, "text": {"field": "s"}}
    }
  ]
}
